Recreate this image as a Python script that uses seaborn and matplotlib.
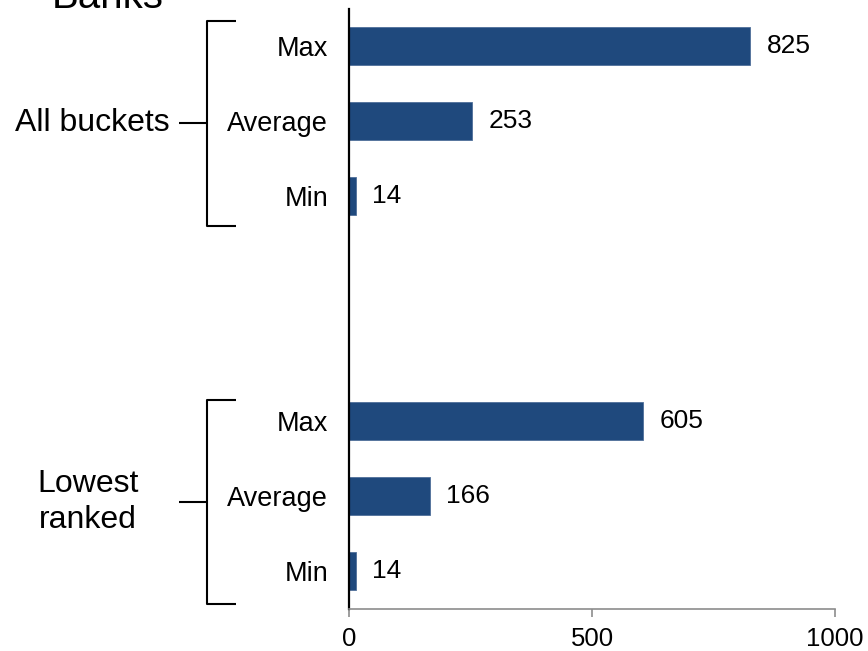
import matplotlib
matplotlib.use("Agg")
import matplotlib.pyplot as plt
import seaborn as sns
import pandas as pd

# Bank counts per bucket statistic
groups = ["All buckets", "All buckets", "All buckets",
          "Lowest ranked", "Lowest ranked", "Lowest ranked"]
stats = ["Max", "Average", "Min", "Max", "Average", "Min"]
values = [825, 253, 14, 605, 166, 14]
x_ticks = [0, 500, 1000]
title = "Banks"

df = pd.DataFrame({"group": groups, "stat": stats, "value": values})
df["row"] = df["group"] + "|" + df["stat"]

# two empty slots separate the groups
order = list(df["row"][:3]) + ["gap1", "gap2"] + list(df["row"][3:])
tick_text = [r.split("|")[1] if "|" in r else "" for r in order]

sns.set_theme(style="white")
plt.rcParams["font.family"] = ["Liberation Sans", "DejaVu Sans"]
plt.rcParams["text.color"] = "black"
plt.rcParams["xtick.color"] = "black"
plt.rcParams["ytick.color"] = "black"

W, H = 868, 651
fig = plt.figure(figsize=(W / 100, H / 100), dpi=100)
ax = fig.add_axes([349 / W, 1 - 608.5 / H, (835 - 349) / W, (608.5 - 8.5) / H])

bar_color = "#1F497D"
sns.barplot(data=df, x="value", y="row", order=order, orient="h",
            color=bar_color, width=0.5, saturation=1, ax=ax,
            edgecolor="#4F6F9A", linewidth=0.6)

for cont in ax.containers:
    ax.bar_label(cont, labels=[f"{v:g}" for v in cont.datavalues],
                 padding=12, fontsize=19, color="black")

ax.set_xlim(0, 1000)
ax.set_ylim(len(order) - 0.5, -0.5)
ax.set_xticks(x_ticks)
ax.set_xticklabels([str(t) for t in x_ticks], fontsize=18.5, color="black")
ax.set_yticks(range(len(order)))
ax.set_yticklabels(tick_text, fontsize=19.5, color="black")
ax.set_xlabel("")
ax.set_ylabel("")

for s in ["top", "right"]:
    ax.spines[s].set_visible(False)
ax.spines["left"].set_color("black")
ax.spines["left"].set_linewidth(1.6)
ax.spines["bottom"].set_color("#8C8C8C")
ax.spines["bottom"].set_linewidth(1.2)
ax.tick_params(axis="x", which="major", direction="out", length=5.5, width=1.2,
               color="#8C8C8C", labelcolor="black", pad=8, bottom=True)
ax.tick_params(axis="y", length=0, pad=15, labelcolor="black")


def px(x, y):
    return x / W, 1 - y / H


# brackets grouping the rows
def bracket(top, bottom, mid, label, label_x, ha):
    kw = dict(transform=fig.transFigure, color="black", lw=1.5,
              solid_capstyle="butt", clip_on=False)
    xs = [236, 207, 207, 236]
    ys = [top, top, bottom, bottom]
    fig.add_artist(plt.Line2D([px(x, 0)[0] for x in xs],
                              [px(0, y)[1] for y in ys], **kw))
    fig.add_artist(plt.Line2D([px(179, 0)[0], px(207, 0)[0]],
                              [px(0, mid)[1]] * 2, **kw))
    fig.text(*px(label_x, mid), label, ha=ha, va="center", fontsize=23,
             linespacing=1.25, color="black")


bracket(21, 226, 123, "All buckets", 170, "right")
bracket(400, 604, 502, "Lowest\nranked", 88, "center")

fig.text(*px(52, 8), title, ha="left", va="baseline", fontsize=29,
         color="black")

fig.savefig("out.png", dpi=100)
